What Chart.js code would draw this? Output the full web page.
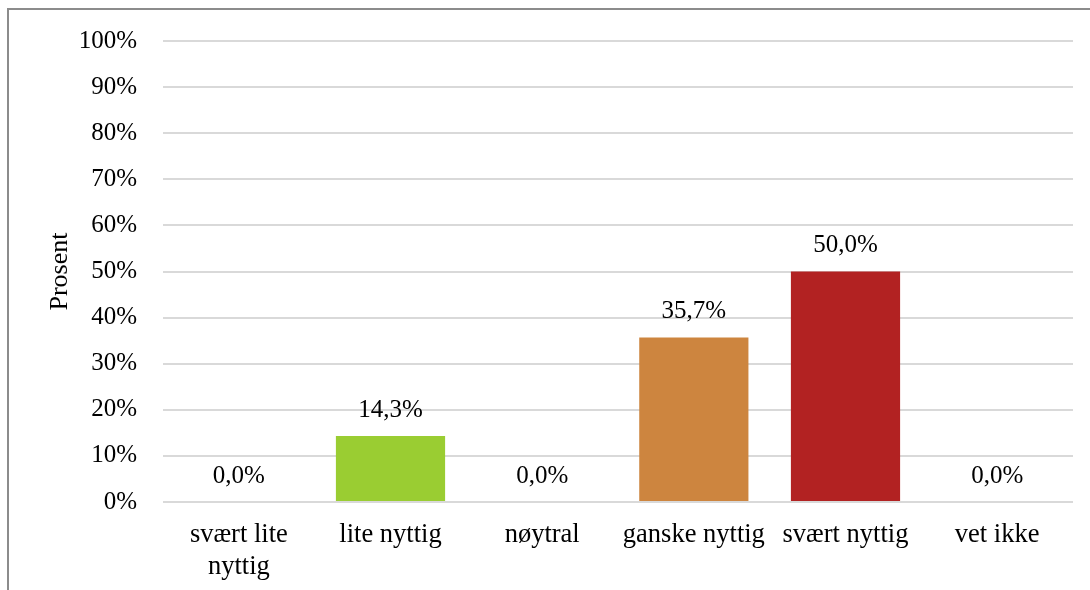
<!DOCTYPE html>
<html>
<head>
<meta charset="utf-8">
<script src="https://cdn.jsdelivr.net/npm/chart.js@4.4.0/dist/chart.umd.min.js"></script>
<style>
  html, body { margin: 0; padding: 0; background: #fff; }
  #frame { position: absolute; left: 7px; top: 8px; width: 1200px; height: 700px;
           border-left: 2px solid #8c8c8c; border-top: 2px solid #8c8c8c; }
  #wrap { position: absolute; left: 0; top: 0; width: 1090px; height: 590px; }
</style>
</head>
<body>
<div id="frame"></div>
<div id="wrap"><canvas id="myChart" width="1090" height="590"></canvas></div>
<script>
// categories and values (percent)
var categories = [["svært lite", "nyttig"], "lite nyttig", "nøytral", "ganske nyttig", "svært nyttig", "vet ikke"];
var values = [0, 14.3, 0, 35.7, 50.0, 0];
var barColors = ["#9ACD32", "#9ACD32", "#9ACD32", "#CD853F", "#B22222", "#B22222"];
var tickValues = [0, 10, 20, 30, 40, 50, 60, 70, 80, 90, 100];

var serif = "'Liberation Serif', 'Times New Roman', serif";

// draw the value labels above each bar
var valueLabels = {
  id: "valueLabels",
  afterDatasetsDraw: function(chart) {
    var ctx = chart.ctx;
    var meta = chart.getDatasetMeta(0);
    ctx.save();
    ctx.font = "25px " + serif;
    ctx.fillStyle = "#000";
    ctx.textAlign = "center";
    ctx.textBaseline = "middle";
    meta.data.forEach(function(bar, i) {
      var txt = values[i].toFixed(1).replace(".", ",") + "%";
      ctx.fillText(txt, bar.x, bar.y - 26);
    });
    ctx.restore();
  }
};

new Chart("myChart", {
  type: "bar",
  data: {
    labels: categories,
    datasets: [{
      data: values,
      backgroundColor: barColors,
      categoryPercentage: 1.0,
      barPercentage: 0.72
    }]
  },
  plugins: [valueLabels],
  options: {
    responsive: false,
    animation: false,
    layout: { padding: { top: 38, right: 17, bottom: 0, left: 0 } },
    plugins: {
      legend: { display: false },
      tooltip: { enabled: false }
    },
    scales: {
      x: {
        grid: { display: false, drawTicks: false },
        border: { display: false },
        ticks: {
          color: "#000",
          font: { family: serif, size: 26.5, lineHeight: 1.22 },
          padding: 17,
          maxRotation: 0,
          autoSkip: false
        },
        afterFit: function(axis) { axis.height = 88; }
      },
      y: {
        min: 0,
        max: 100,
        afterBuildTicks: function(axis) {
          axis.ticks = tickValues.map(function(v) { return { value: v }; });
        },
        grid: { color: "#d9d9d9", lineWidth: 2, drawTicks: false },
        border: { display: false },
        ticks: {
          color: "#000",
          font: { family: serif, size: 25 },
          padding: 26,
          callback: function(v) { return v + "%"; }
        },
        title: {
          display: true,
          text: "Prosent",
          color: "#000",
          font: { family: serif, size: 26 },
          padding: { top: 45, bottom: 0 }
        },
        afterFit: function(axis) { axis.width = 163; }
      }
    }
  }
});
</script>
</body>
</html>
